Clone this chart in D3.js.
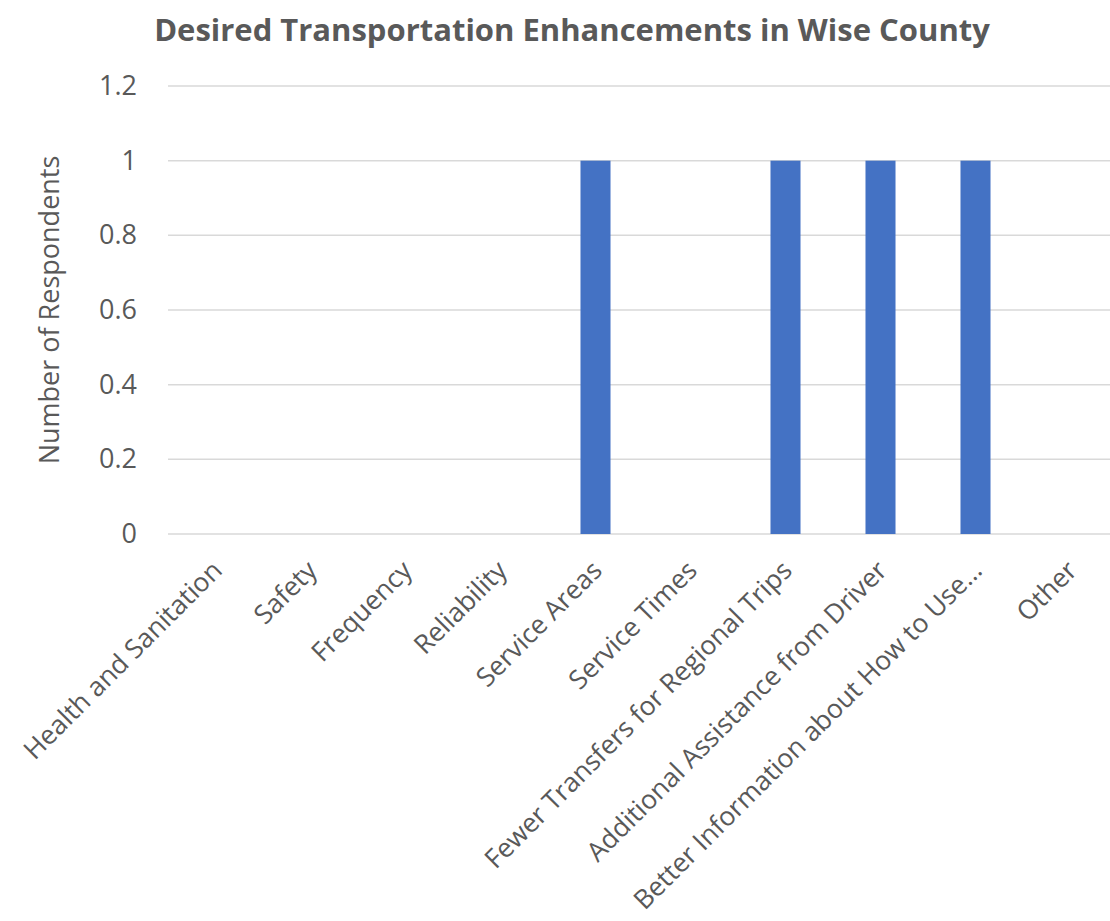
<!DOCTYPE html>
<html>
<head>
<meta charset="utf-8">
<script src="https://cdn.jsdelivr.net/npm/d3@7"></script>
<style>
  body { margin: 0; background: #fff; }
  svg { display: block; font-family: "Open Sans", sans-serif; }
</style>
</head>
<body>
<div id="chart"></div>
<script>
const categories = [
  "Health and Sanitation",
  "Safety",
  "Frequency",
  "Reliability",
  "Service Areas",
  "Service Times",
  "Fewer Transfers for Regional Trips",
  "Additional Assistance from Driver",
  "Better Information about How to Use…",
  "Other",
];
const values = [0, 0, 0, 0, 1, 0, 1, 1, 1, 0];
const yTicks = [0, 0.2, 0.4, 0.6, 0.8, 1, 1.2];

const width = 1110;
const height = 921;
const margin = { top: 86, right: -8, bottom: 387, left: 168 };

const data = categories.map((c, i) => ({ category: c, value: values[i] }));

const svg = d3
  .select("#chart")
  .append("svg")
  .attr("width", width)
  .attr("height", height)
  .attr("viewBox", [0, 0, width, height]);

const x = d3
  .scaleBand()
  .domain(categories)
  .range([margin.left, width - margin.right])
  .paddingInner(0.684)
  .paddingOuter(0.342);

const y = d3
  .scaleLinear()
  .domain([0, 1.2])
  .range([height - margin.bottom, margin.top]);

// title
svg
  .append("text")
  .attr("x", 572)
  .attr("y", 41)
  .attr("text-anchor", "middle")
  .attr("fill", "#595959")
  .attr("font-size", 31)
  .attr("font-weight", "bold")
  .text("Desired Transportation Enhancements in Wise County");

// gridlines
svg
  .append("g")
  .selectAll("line")
  .data(yTicks)
  .join("line")
  .attr("x1", margin.left)
  .attr("x2", width)
  .attr("y1", (d) => y(d))
  .attr("y2", (d) => y(d))
  .attr("stroke", "#d9d9d9")
  .attr("stroke-width", 1.5);

// y axis labels
const yAxis = svg
  .append("g")
  .attr("transform", `translate(${margin.left}, 0)`)
  .call(d3.axisLeft(y).tickValues(yTicks).tickSize(0).tickPadding(31).tickFormat(d3.format("~g")));
yAxis.select(".domain").remove();
yAxis
  .selectAll("text")
  .attr("fill", "#595959")
  .attr("font-size", 27)
  .attr("font-family", "Open Sans, sans-serif");

// bars
svg
  .append("g")
  .selectAll("rect")
  .data(data)
  .join("rect")
  .attr("x", (d) => x(d.category))
  .attr("width", x.bandwidth())
  .attr("y", (d) => y(d.value))
  .attr("height", (d) => y(0) - y(d.value))
  .attr("fill", "#4472c4");

// x axis labels
svg
  .append("g")
  .selectAll("text")
  .data(categories)
  .join("text")
  .attr("transform", (d) => `translate(${x(d) + x.bandwidth() / 2 - 5}, ${y(0) + 25}) rotate(-45)`)
  .attr("text-anchor", "end")
  .attr("dy", "0.7em")
  .attr("fill", "#595959")
  .attr("font-size", 26.5)
  .text((d) => d);

// y axis title
svg
  .append("text")
  .attr("transform", `translate(59, ${(y(0) + y(1.2)) / 2}) rotate(-90)`)
  .attr("text-anchor", "middle")
  .attr("fill", "#595959")
  .attr("font-size", 27)
  .text("Number of Respondents");
</script>
</body>
</html>
